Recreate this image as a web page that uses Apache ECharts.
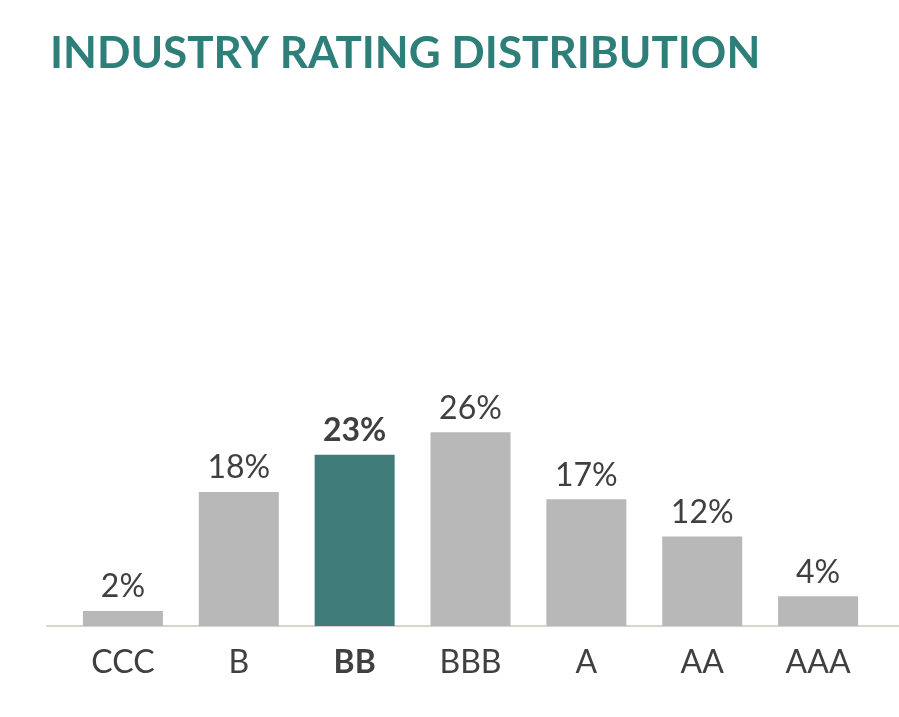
<!DOCTYPE html>
<html>
<head>
<meta charset="utf-8">
<script src="https://cdn.jsdelivr.net/npm/echarts@6/dist/echarts.min.js"></script>
<style>
  html, body { margin: 0; padding: 0; background: #fff; }
  #chart { width: 899px; height: 717px; }
</style>
</head>
<body>
<div id="chart"></div>
<script>
// rating buckets
const categories = ["CCC", "B", "BB", "BBB", "A", "AA", "AAA"];
const shares = [2, 18, 23, 26, 17, 12, 4]; // percent of industry
const highlight = "BB";

const grey = "#b8b8b8";
const teal = "#3f7b79";
const textColor = "#404040";
const font = "Lato";

const chart = echarts.init(document.getElementById("chart"));

const option = {
  animation: false,
  title: {
    text: "INDUSTRY RATING DISTRIBUTION",
    left: 45,
    top: 27,
    textStyle: { fontFamily: font, fontWeight: "bold", fontSize: 44, color: "#2e7e7a" },
  },
  grid: [
    { left: 65, right: 23, top: 328, bottom: 91 },
    { left: 47, right: 0, top: 328, bottom: 91 }, // only for the long baseline
  ],
  xAxis: [
    {
      type: "category",
      data: categories,
      axisLine: { show: false },
      axisTick: { show: false },
      axisLabel: {
        margin: 21,
        fontFamily: font,
        fontSize: 32,
        color: textColor,
        formatter: (v) => (v === highlight ? "{b|" + v + "}" : v),
        rich: { b: { fontFamily: font, fontSize: 32, fontWeight: "bold", color: textColor } },
      },
    },
    {
      type: "value",
      gridIndex: 1,
      min: 0,
      max: 1,
      axisLine: { show: true, lineStyle: { color: "#d9d3cc", width: 2 } },
      axisTick: { show: false },
      axisLabel: { show: false },
      splitLine: { show: false },
    },
  ],
  yAxis: [
    { type: "value", min: 0, max: 40, show: false },
    { type: "value", gridIndex: 1, min: 0, max: 1, show: false },
  ],
  series: [
    {
      type: "bar",
      barWidth: 80,
      data: shares.map((v, i) => ({
        value: v,
        itemStyle: { color: categories[i] === highlight ? teal : grey },
        label: categories[i] === highlight ? { fontWeight: "bold" } : undefined,
      })),
      label: {
        show: true,
        position: "top",
        distance: 8,
        fontFamily: font,
        fontSize: 32,
        color: textColor,
        formatter: "{c}%",
      },
    },
  ],
};

chart.setOption(option);
</script>
</body>
</html>
